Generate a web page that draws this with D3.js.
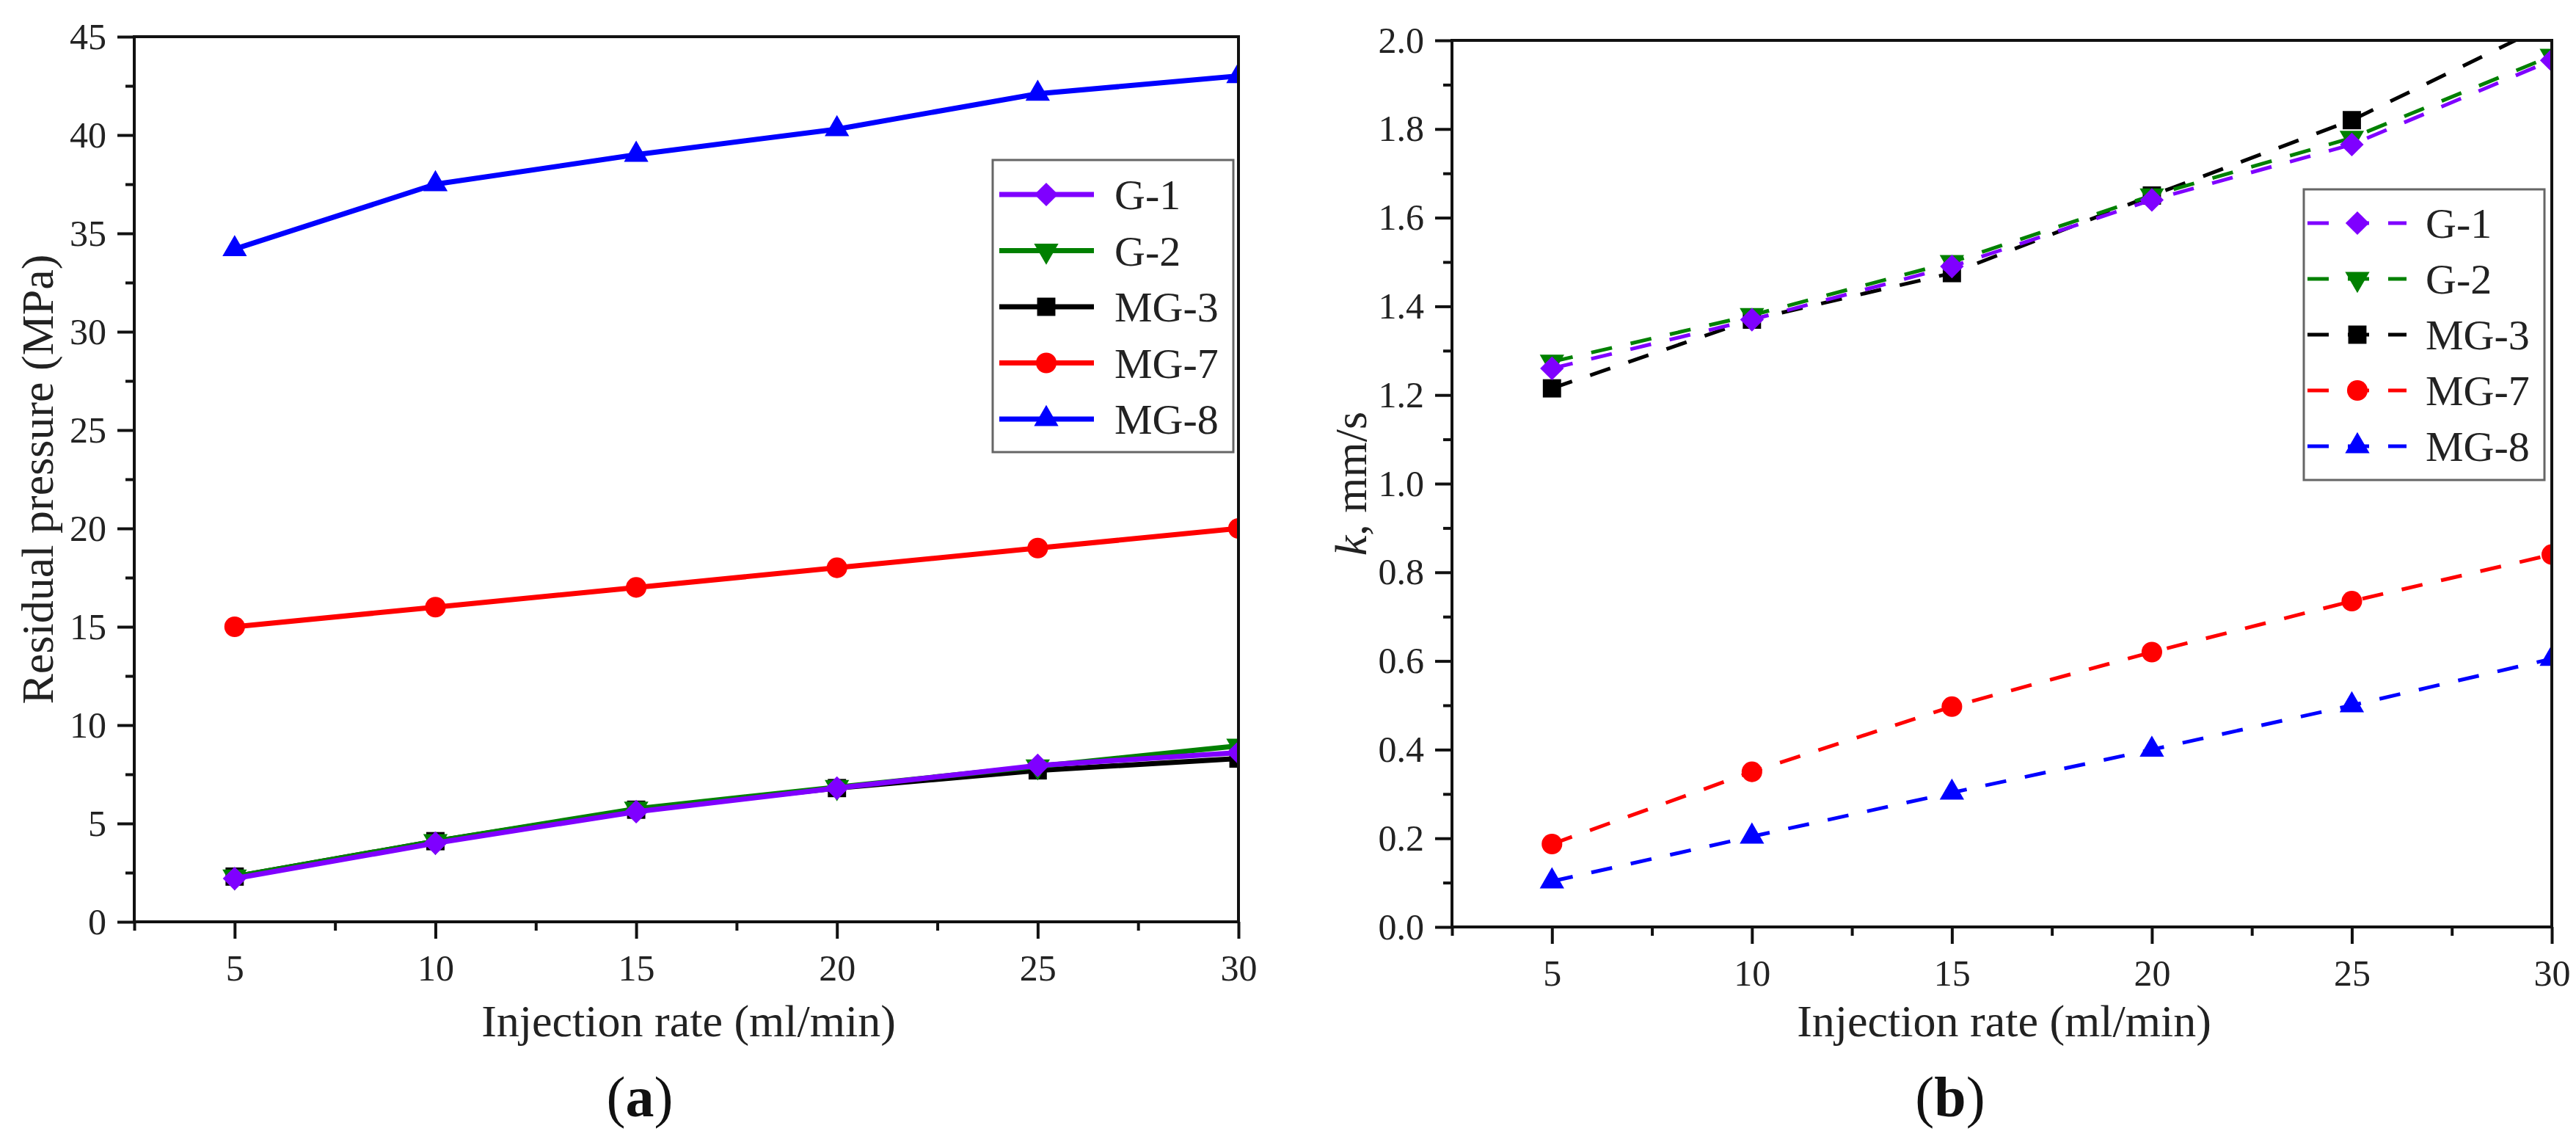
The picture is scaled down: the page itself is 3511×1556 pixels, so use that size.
<!DOCTYPE html>
<html>
<head>
<meta charset="utf-8">
<script src="https://cdn.jsdelivr.net/npm/d3@7"></script>
<style>
  body { margin: 0; background: #fff; }
  svg { display: block; font-family: "Liberation Serif", "Times New Roman", serif; }
</style>
</head>
<body>
<div id="container"></div>
<script>
/* ---------------- DATA ---------------- */
const rates = [5, 10, 15, 20, 25, 30];
const names = ["G-1", "G-2", "MG-3", "MG-7", "MG-8"];
const colors = ["#7f00ff", "#008000", "#000000", "#ff0000", "#0000ff"];
const shapes = ["diamond", "down", "square", "circle", "up"];

// (a) residual pressure, MPa
const pressG1 = [2.2, 4.0, 5.6, 6.8, 7.95, 8.6];
const pressG2 = [2.3, 4.1, 5.75, 6.85, 7.9, 8.95];
const pressMG3 = [2.3, 4.1, 5.7, 6.8, 7.7, 8.3];
const pressMG7 = [15, 16, 17, 18, 19, 20];
const pressMG8 = [34.2, 37.5, 39.0, 40.3, 42.1, 43.0];

// (b) k, mm/s
const kG1 = [1.26, 1.37, 1.49, 1.64, 1.765, 1.955];
const kG2 = [1.275, 1.38, 1.50, 1.65, 1.78, 1.965];
const kMG3 = [1.215, 1.37, 1.475, 1.65, 1.82, 2.04];
const kMG7 = [0.187, 0.35, 0.497, 0.62, 0.735, 0.84];
const kMG8 = [0.103, 0.204, 0.303, 0.40, 0.50, 0.605];

// ticks
const xTicks = [5, 10, 15, 20, 25, 30];
const xMinor = [2.5, 7.5, 12.5, 17.5, 22.5, 27.5];
const yTicksA = [0, 5, 10, 15, 20, 25, 30, 35, 40, 45];
const yMinorA = [2.5, 7.5, 12.5, 17.5, 22.5, 27.5, 32.5, 37.5, 42.5];
const yTicksB = [0, 0.2, 0.4, 0.6, 0.8, 1.0, 1.2, 1.4, 1.6, 1.8, 2.0];
const yMinorB = [0.1, 0.3, 0.5, 0.7, 0.9, 1.1, 1.3, 1.5, 1.7, 1.9];

/* ---------------- SETUP ---------------- */
const W = 3511, H = 1556;
const svg = d3.select("#container").append("svg")
  .attr("width", W)
  .attr("height", H);

function symbolFor(shape) {
  return {
    diamond: { type: d3.symbolSquare, size: 520, rot: 45 },
    down: { type: d3.symbolTriangle, size: 480, rot: 180 },
    square: { type: d3.symbolSquare, size: 620, rot: 0 },
    circle: { type: d3.symbolCircle, size: 620, rot: 0 },
    up: { type: d3.symbolTriangle, size: 480, rot: 0 }
  }[shape];
}

function drawMarker(g, shape, color, cx, cy) {
  const s = symbolFor(shape);
  g.append("path")
    .attr("d", d3.symbol().type(s.type).size(s.size)())
    .attr("transform", `translate(${cx},${cy}) rotate(${s.rot})`)
    .attr("fill", color);
}

/* ---------------- PANEL ---------------- */
function panel(cfg) {
  const x = d3.scaleLinear().domain([2.5, 30]).range([cfg.left, cfg.right]);
  const y = d3.scaleLinear().domain(cfg.yDomain).range([cfg.bottom, cfg.top]);

  svg.append("clipPath").attr("id", cfg.id)
    .append("rect")
    .attr("x", cfg.left).attr("y", cfg.top)
    .attr("width", cfg.right - cfg.left)
    .attr("height", cfg.bottom - cfg.top);

  const plot = svg.append("g").attr("clip-path", `url(#${cfg.id})`);
  const line = d3.line().x((d, i) => x(rates[i])).y(d => y(d));

  // reverse order so G-1 sits on top
  for (let k = cfg.series.length - 1; k >= 0; k--) {
    const vals = cfg.series[k];
    plot.append("path")
      .attr("d", line(vals))
      .attr("fill", "none")
      .attr("stroke", colors[k])
      .attr("stroke-width", cfg.lineWidth)
      .attr("stroke-dasharray", cfg.dash || null)
      .attr("stroke-linejoin", "round");
    vals.forEach((v, i) => drawMarker(plot, shapes[k], colors[k], x(rates[i]), y(v)));
  }

  // axes
  const styleAxis = g => {
    g.select(".domain").remove();
    g.selectAll(".tick line").attr("stroke", "#111").attr("stroke-width", 4);
    g.selectAll(".tick text")
      .attr("fill", "#222")
      .style("font-size", "50px")
      .style("font-family", "'Liberation Serif', 'Times New Roman', serif");
  };

  svg.append("g")
    .attr("transform", `translate(0,${cfg.bottom})`)
    .call(d3.axisBottom(x).tickValues(xMinor).tickSize(12).tickFormat(""))
    .call(styleAxis);
  svg.append("g")
    .attr("transform", `translate(0,${cfg.bottom})`)
    .call(d3.axisBottom(x).tickValues(xTicks).tickSize(23).tickPadding(21).tickFormat(d3.format("d")))
    .call(styleAxis);

  svg.append("g")
    .attr("transform", `translate(${cfg.left},0)`)
    .call(d3.axisLeft(y).tickValues(cfg.yMinor).tickSize(12).tickFormat(""))
    .call(styleAxis);
  svg.append("g")
    .attr("transform", `translate(${cfg.left},0)`)
    .call(d3.axisLeft(y).tickValues(cfg.yTicks).tickSize(23).tickPadding(15).tickFormat(d3.format(cfg.fmt)))
    .call(styleAxis);

  // frame
  svg.append("rect")
    .attr("x", cfg.left).attr("y", cfg.top)
    .attr("width", cfg.right - cfg.left)
    .attr("height", cfg.bottom - cfg.top)
    .attr("fill", "none")
    .attr("stroke", "#111")
    .attr("stroke-width", 4);

  // x title
  svg.append("text")
    .attr("x", (cfg.left + cfg.right) / 2 + 3)
    .attr("y", 1412)
    .attr("text-anchor", "middle")
    .attr("fill", "#222")
    .style("font-size", "62px")
    .text("Injection rate (ml/min)");

  // y title
  const yt = svg.append("text")
    .attr("transform", `translate(${cfg.yTitleX},${(cfg.top + cfg.bottom) / 2}) rotate(-90)`)
    .attr("text-anchor", "middle")
    .attr("fill", "#222")
    .style("font-size", "62px");
  cfg.yTitle(yt);

  // panel label
  const lab = svg.append("text")
    .attr("x", cfg.labelX)
    .attr("y", 1521)
    .attr("text-anchor", "middle")
    .attr("fill", "#111")
    .style("font-size", "78px");
  lab.append("tspan").text("(");
  lab.append("tspan").attr("font-weight", "bold").text(cfg.label);
  lab.append("tspan").text(")");

  // legend
  const L = cfg.legend;
  svg.append("rect")
    .attr("x", L.x).attr("y", L.y)
    .attr("width", L.w).attr("height", L.h)
    .attr("fill", "#fff")
    .attr("stroke", "#666")
    .attr("stroke-width", 3);
  names.forEach((n, k) => {
    const cy = L.y0 + k * L.step;
    svg.append("line")
      .attr("x1", L.lx1).attr("x2", L.lx2)
      .attr("y1", cy).attr("y2", cy)
      .attr("stroke", colors[k])
      .attr("stroke-width", cfg.lineWidth)
      .attr("stroke-dasharray", cfg.dash || null);
    drawMarker(svg, shapes[k], colors[k], L.mx, cy);
    svg.append("text")
      .attr("x", L.tx)
      .attr("y", cy)
      .attr("dy", "0.35em")
      .attr("fill", "#222")
      .style("font-size", "58px")
      .text(n);
  });
}

/* ---------------- DRAW ---------------- */
panel({
  id: "clipA",
  left: 183, right: 1688, top: 50, bottom: 1256,
  yDomain: [0, 45], yTicks: yTicksA, yMinor: yMinorA, fmt: "d",
  series: [pressG1, pressG2, pressMG3, pressMG7, pressMG8],
  lineWidth: 7,
  yTitleX: 72,
  yTitle: t => t.text("Residual pressure (MPa)"),
  label: "a", labelX: 872,
  legend: { x: 1353, y: 218, w: 328, h: 398, y0: 265, step: 76.5, lx1: 1362, lx2: 1491, mx: 1426, tx: 1519 }
});

panel({
  id: "clipB",
  left: 1979, right: 3478, top: 55, bottom: 1263,
  yDomain: [0, 2], yTicks: yTicksB, yMinor: yMinorB, fmt: ".1f",
  series: [kG1, kG2, kMG3, kMG7, kMG8],
  lineWidth: 5, dash: "29,26",
  yTitleX: 1862,
  yTitle: t => {
    t.append("tspan").attr("font-style", "italic").text("k");
    t.append("tspan").text(", mm/s");
  },
  label: "b", labelX: 2658,
  legend: { x: 3140, y: 258, w: 328, h: 396, y0: 304, step: 76, lx1: 3145, lx2: 3280, mx: 3213, tx: 3306 }
});
</script>
</body>
</html>
